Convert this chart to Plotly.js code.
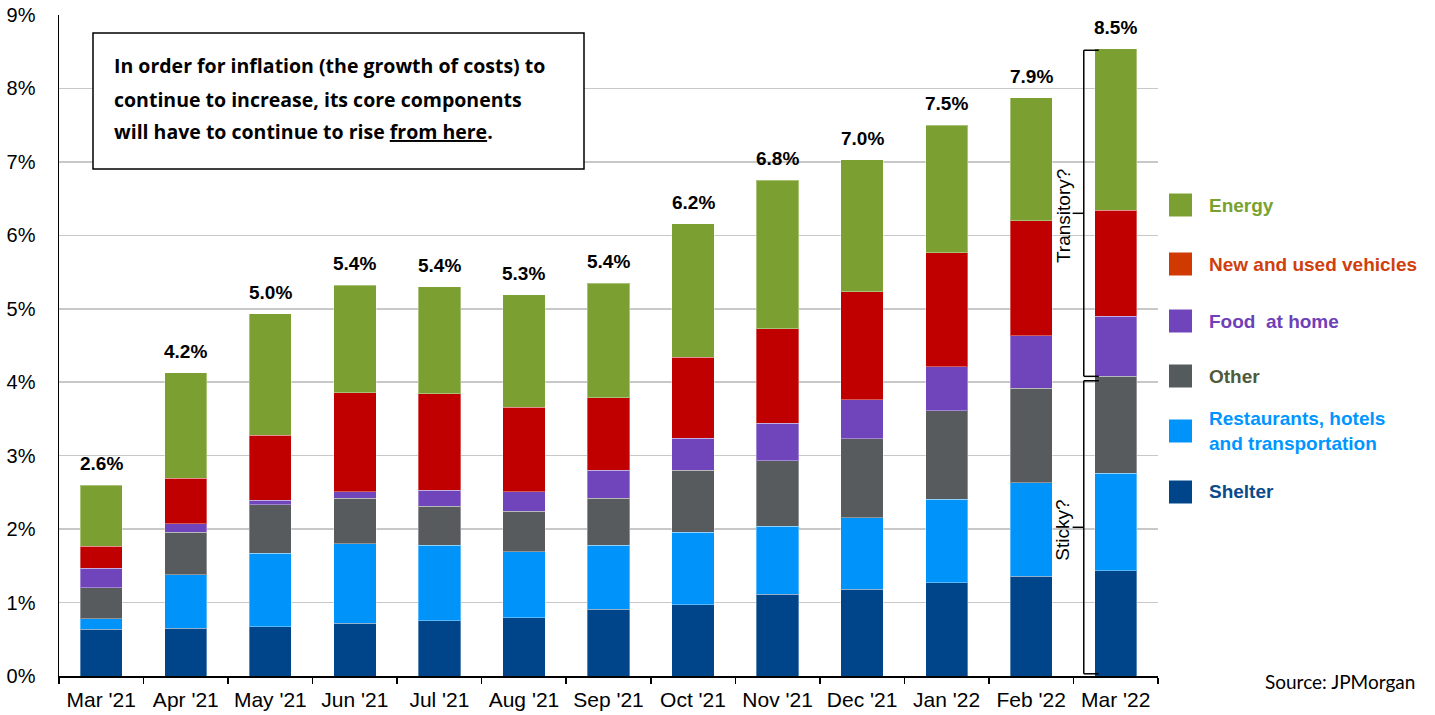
<!DOCTYPE html>
<html>
<head>
<meta charset="utf-8">
<script src="https://cdn.plot.ly/plotly-3.0.1.min.js"></script>
<style>
  html,body{margin:0;padding:0;background:#fff;}
  #chart{width:1435px;height:715px;}
</style>
</head>
<body>
<div id="chart"></div>
<script>
// months on the x axis
const months = ["Mar '21","Apr '21","May '21","Jun '21","Jul '21","Aug '21","Sep '21","Oct '21","Nov '21","Dec '21","Jan '22","Feb '22","Mar '22"];

// contribution to CPI y/y, percentage points
const shelter     = [0.64,0.65,0.67,0.72,0.75,0.79,0.91,0.97,1.11,1.18,1.27,1.36,1.43];
const restaurants = [0.14,0.73,1.00,1.08,1.03,0.90,0.87,0.985,0.93,0.975,1.14,1.27,1.33];
const other       = [0.42,0.575,0.66,0.62,0.53,0.55,0.64,0.845,0.89,1.075,1.20,1.285,1.32];
const food        = [0.27,0.115,0.06,0.09,0.22,0.27,0.38,0.44,0.51,0.53,0.60,0.715,0.82];
const vehicles    = [0.30,0.62,0.89,1.35,1.31,1.15,0.99,1.10,1.29,1.47,1.55,1.57,1.44];
const energy      = [0.83,1.44,1.65,1.46,1.46,1.53,1.56,1.82,2.02,1.80,1.74,1.675,2.20];

// headline labels above the bars
const totalLabels = ['2.6%','4.2%','5.0%','5.4%','5.4%','5.3%','5.4%','6.2%','6.8%','7.0%','7.5%','7.9%','8.5%'];

const seriesNames = ['Shelter','Restaurants, hotels<br>and transportation','Other','Food  at home','New and used vehicles','Energy'];
const seriesVals  = [shelter, restaurants, other, food, vehicles, energy];
const barColors   = ['#00458A','#0094FA','#575B5E','#7044BA','#C00000','#7BA031'];
const legendSwatch= ['#00458A','#0094FA','#555A5C','#7044BA','#D03A00','#7BA031'];
const legendText  = ['#0B4B8C','#0096FF','#4E5A3A','#7040B8','#D0400C','#78A22F'];

const noteLines = [
  'In order for inflation (the growth of costs) to',
  'continue to increase, its core components',
  'will have to continue to rise <u>from here</u>.'
];

// --- geometry of the plot area (pixels) ---
const W=1435, H=715;
const M={l:59, r:277, t:15, b:39};
const PW=W-M.l-M.r, PH=H-M.t-M.b;
const px = x => (x-M.l)/PW;
const py = y => (H-M.b-y)/PH;

const traces = seriesVals.map((vals,i)=>({
  type:'bar',
  x: months,
  y: vals,
  name: seriesNames[i],
  marker:{color: barColors[i], line:{color:'rgba(255,255,255,0.35)', width:1}},
  hoverinfo:'skip'
}));

const totals = months.map((m,i)=>seriesVals.reduce((s,v)=>s+v[i],0));
const last = months.length-1;
const stickyTop = shelter[last]+restaurants[last]+other[last];

const annotations = [];
totals.forEach((t,i)=>{
  annotations.push({
    x: months[i], y: t, text: '<b>'+totalLabels[i]+'</b>', showarrow:false,
    yanchor:'bottom', yshift: 9,
    font:{family:'Liberation Sans, Arial, sans-serif', size:19, color:'#000'}
  });
});

// note box text
const noteY=[66,99,131];
noteLines.forEach((t,i)=>{
  annotations.push({
    xref:'paper', yref:'paper', x: px(112), y: py(noteY[i]),
    xanchor:'left', yanchor:'middle', showarrow:false, align:'left',
    text:'<b>'+t+'</b>',
    font:{family:'Open Sans, Noto Sans, sans-serif', size:19.5, color:'#000'}
  });
});

// legend (custom, coloured text)
const legY=[205,264,321,376,431,492];
const legOrder=[5,4,3,2,1,0];
const shapes=[];
legOrder.forEach((si,k)=>{
  const cy=legY[k];
  shapes.push({type:'rect', xref:'paper', yref:'paper',
    x0:px(1169), x1:px(1192), y0:py(cy-11.5), y1:py(cy+11.5),
    fillcolor:legendSwatch[si], line:{width:0}});
  annotations.push({
    xref:'paper', yref:'paper', x:px(1207), y:py(cy), xanchor:'left', yanchor:'middle',
    showarrow:false, align:'left', text:'<b>'+seriesNames[si]+'</b>',
    font:{family:'Liberation Sans, Arial, sans-serif', size:19, color:legendText[si]}
  });
});

// note box
shapes.push({type:'rect', xref:'paper', yref:'paper', x0:px(93), x1:px(584), y0:py(33), y1:py(169),
  fillcolor:'#fff', line:{color:'#000', width:1.5}});

// brackets next to the last bar
const bx=11.622, bs=11.80, bt=11.49;
const brk=(y0,y1)=>{
  const ym=(y0+y1)/2;
  return [
    {type:'line', x0:bx, x1:bx, y0:y0, y1:y1},
    {type:'line', x0:bx, x1:bs, y0:y0, y1:y0},
    {type:'line', x0:bx, x1:bs, y0:y1, y1:y1},
    {type:'line', x0:bt, x1:bx, y0:ym, y1:ym}
  ].map(s=>Object.assign(s,{xref:'x', yref:'y', line:{color:'#000', width:1.5}}));
};
shapes.push(...brk(totals[last]-0.02, stickyTop));
shapes.push(...brk(stickyTop-0.06, 0.03));

annotations.push({x:11.374, y:(totals[last]+stickyTop)/2-0.05, text:'Transitory?', textangle:-90, showarrow:false,
  font:{family:'Liberation Sans, Arial, sans-serif', size:19, color:'#000'}});
annotations.push({x:11.374, y:stickyTop/2-0.05, text:'Sticky?', textangle:-90, showarrow:false,
  font:{family:'Liberation Sans, Arial, sans-serif', size:19, color:'#000'}});

annotations.push({xref:'paper', yref:'paper', x:px(1417), y:py(681), xanchor:'right', yanchor:'middle',
  showarrow:false, text:'Source: JPMorgan',
  font:{family:'Lato, Carlito, Calibri, sans-serif', size:19, color:'#000'}});

const layout = {
  width:W, height:H,
  margin:M,
  barmode:'stack',
  bargap:0.5,
  showlegend:false,
  paper_bgcolor:'#fff',
  plot_bgcolor:'#fff',
  font:{family:'Liberation Sans, Arial, sans-serif', color:'#000'},
  xaxis:{
    type:'category', range:[-0.5,12.5],
    showline:true, linecolor:'#000', linewidth:1.5,
    ticks:'outside', tickson:'boundaries', ticklen:6, tickcolor:'#000', tickwidth:1.5,
    tickfont:{size:21, color:'#000'}, ticklabelstandoff:4,
    showgrid:false, zeroline:false
  },
  yaxis:{
    range:[0,9], dtick:1, ticksuffix:'%',
    showline:true, linecolor:'#000', linewidth:1.5,
    ticks:'', tickfont:{size:20, color:'#000'}, ticklabelstandoff:18,
    showgrid:true, gridcolor:'#C8C8C8', gridwidth:1.5,
    zeroline:false
  },
  shapes:shapes,
  annotations:annotations
};

Plotly.newPlot('chart', traces, layout, {displayModeBar:false, staticPlot:true});
</script>
</body>
</html>
